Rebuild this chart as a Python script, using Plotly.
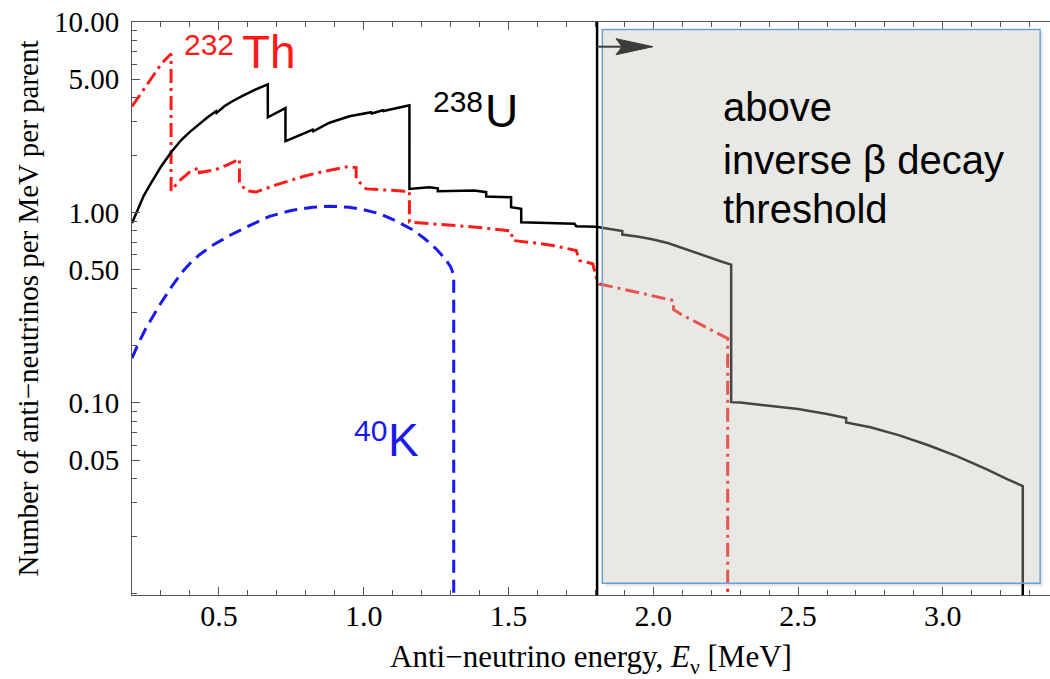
import plotly.graph_objects as go

# ---------------- data ----------------
# 238U chain spectrum (black, solid)
u_energy = [0.20, 0.22, 0.24, 0.26, 0.28, 0.30, 0.335, 0.37, 0.40, 0.433, 0.46, 0.490, 0.492,
            0.52, 0.548, 0.58, 0.62, 0.669, 0.669, 0.730, 0.730, 0.78, 0.824, 0.826, 0.882,
            0.951, 1.026, 1.028, 1.066, 1.068, 1.12, 1.158, 1.158,
            1.227, 1.256, 1.256, 1.383, 1.423, 1.423, 1.509, 1.509, 1.544, 1.544, 1.728, 1.734,
            1.803, 1.893, 1.893, 1.95, 2.00, 2.05, 2.10, 2.15, 2.20, 2.24, 2.269, 2.269,
            2.30, 2.40, 2.50, 2.60, 2.666, 2.666, 2.75, 2.85, 2.95, 3.05, 3.15, 3.22,
            3.276, 3.276]
u_rate = [0.88, 1.04, 1.22, 1.38, 1.56, 1.74, 2.07, 2.40, 2.65, 2.92, 3.15, 3.40, 3.33,
          3.62, 3.85, 4.08, 4.38, 4.70, 3.16, 3.53, 2.37, 2.55, 2.72, 2.67, 2.96,
          3.20, 3.36, 3.31, 3.44, 3.41, 3.56, 3.65, 1.33,
          1.358, 1.34, 1.294, 1.305, 1.278, 1.213, 1.203, 1.066, 1.045, 0.889, 0.872, 0.847,
          0.842, 0.80, 0.766, 0.745, 0.722, 0.692, 0.650, 0.615, 0.578, 0.550, 0.533, 0.101,
          0.1005, 0.097, 0.093, 0.0875, 0.0835, 0.079, 0.0745, 0.0676, 0.060, 0.0525, 0.045, 0.040,
          0.0366, 0.009]

# 232Th chain spectrum (red, dash-dot)
th_energy = [0.20, 0.23, 0.26, 0.302, 0.335, 0.335, 0.36, 0.399, 0.433, 0.433, 0.490, 0.53,
             0.571, 0.571, 0.594, 0.628, 0.70, 0.80, 0.86, 0.945, 0.974, 0.974, 1.009, 1.158,
             1.158, 1.26, 1.38, 1.509, 1.515, 1.60, 1.653, 1.734, 1.745, 1.791, 1.803, 1.814,
             1.90, 1.98, 2.045, 2.07, 2.07, 2.102, 2.15, 2.20, 2.252, 2.257, 2.257]
th_rate = [3.6, 4.2, 4.93, 6.05, 6.81, 1.30, 1.45, 1.63, 1.72, 1.62, 1.68, 1.78,
           1.91, 1.44, 1.30, 1.28, 1.40, 1.56, 1.64, 1.74, 1.72, 1.50, 1.33, 1.29,
           0.89, 0.87, 0.84, 0.80, 0.713, 0.69, 0.671, 0.632, 0.56, 0.538, 0.457, 0.422,
           0.395, 0.370, 0.352, 0.345, 0.31, 0.288, 0.265, 0.243, 0.221, 0.218, 0.009]

# 40K spectrum (blue, dashed)
k_energy = [0.20, 0.225, 0.25, 0.275, 0.30, 0.34, 0.375, 0.40, 0.433, 0.48, 0.537, 0.60,
            0.675, 0.75, 0.824, 0.88, 0.95, 1.00, 1.055, 1.11, 1.17, 1.21, 1.25, 1.28,
            1.30, 1.311, 1.311]
k_rate = [0.172, 0.21, 0.25, 0.29, 0.335, 0.415, 0.49, 0.54, 0.60, 0.675, 0.757, 0.845,
          0.955, 1.025, 1.065, 1.08, 1.065, 1.035, 0.985, 0.905, 0.81, 0.73, 0.645, 0.575,
          0.52, 0.47, 0.009]

threshold = 1.806
x_range = [0.2, 3.37]
y_range_log = [-2.008, 1.0]

x_major = [0.5, 1.0, 1.5, 2.0, 2.5, 3.0]
x_major_text = ["0.5", "1.0", "1.5", "2.0", "2.5", "3.0"]
x_minor = [round(0.2 + 0.1 * i, 1) for i in range(32)]
x_minor = [v for v in x_minor if v not in x_major]

y_major = [0.05, 0.1, 0.5, 1.0, 5.0, 10.0]
y_major_text = ["0.05", "0.10", "0.50", "1.00", "5.00", "10.00"]
y_minor = []
for dec in [0.01, 0.1, 1.0]:
    for m in range(1, 10):
        v = round(m * dec, 4)
        if v not in y_major:
            y_minor.append(v)

SERIF = "Liberation Serif"
SANS = "Liberation Sans"
AXC = "#555555"

L, T, B, W, H = 132, 22, 84, 1050, 679
PW, PH = W - L, H - T - B


def py(p):
    return (H - B - p) / PH


def px(p):
    return (p - L) / PW


def xdat(p):
    return x_range[0] + (p - L) / PW * (x_range[1] - x_range[0])


fig = go.Figure()
fig.add_trace(go.Scatter(x=k_energy, y=k_rate, mode="lines", name="40K",
                         line=dict(color="#1a1aee", width=3, dash="13px,7px")))
fig.add_trace(go.Scatter(x=th_energy, y=th_rate, mode="lines", name="232Th",
                         line=dict(color="#ff1a1a", width=3, dash="14px,5px,3px,5px")))
fig.add_trace(go.Scatter(x=u_energy, y=u_rate, mode="lines", name="238U",
                         line=dict(color="black", width=2.5)))

# threshold line
fig.add_shape(type="line", xref="x", yref="paper", x0=threshold, x1=threshold, y0=0, y1=1,
              line=dict(color="black", width=2.5), layer="above")

# shaded region: thin shadow strips + box
bx0, bx1 = 1.824, 3.336
by0, by1 = 0.0204, 0.987
sh = 3
fig.add_shape(type="rect", xref="x", yref="paper", x0=bx1, x1=bx1 + sh / PW * 3.17,
              y0=by0 - sh / PH, y1=by1 - sh / PH, line=dict(width=0),
              fillcolor="rgba(0,0,0,0.10)", layer="above")
fig.add_shape(type="rect", xref="x", yref="paper", x0=bx0 + sh / PW * 3.17, x1=bx1,
              y0=by0 - sh / PH, y1=by0, line=dict(width=0),
              fillcolor="rgba(0,0,0,0.10)", layer="above")
fig.add_shape(type="rect", xref="x", yref="paper", x0=bx0, x1=bx1, y0=by0, y1=by1,
              line=dict(color="#6b9fd6", width=1.5),
              fillcolor="rgba(190,190,180,0.36)", layer="above")

# arrow (shaft + head)
ay = 46.7
fig.add_shape(type="line", xref="x", yref="paper", x0=threshold, x1=xdat(622), y0=py(ay), y1=py(ay),
              line=dict(color="#3c3c3c", width=2), layer="above")
head = "M {a},{b} L {c},{d} L {a},{e} L {f},{d} Z".format(
    a=xdat(616), b=py(ay - 8), c=xdat(653), d=py(ay), e=py(ay + 8), f=xdat(622))
fig.add_shape(type="path", xref="x", yref="paper", path=head,
              fillcolor="#3c3c3c", line=dict(color="#3c3c3c", width=1), layer="above")

# in-box text
for txt, yc in [("above", 107), ("inverse β decay", 160), ("threshold", 209)]:
    fig.add_annotation(x=px(721), y=py(yc), xref="paper", yref="paper", text=txt,
                       showarrow=False, xanchor="left", yanchor="middle",
                       font=dict(family=SANS, size=40, color="black"))

# isotope labels
labels = [("232", 209, 44.5, 30, "#ff1a1a"), ("Th", 269, 52, 46, "#ff1a1a"),
          ("238", 457.5, 101, 30, "black"), ("U", 501, 111, 46, "black"),
          ("40", 370, 430, 30, "#1a1aee"), ("K", 403, 440, 46, "#1a1aee")]
for txt, xc, yc, sz, col in labels:
    fig.add_annotation(x=px(xc), y=py(yc), xref="paper", yref="paper", text=txt,
                       showarrow=False, xanchor="center", yanchor="middle",
                       font=dict(family=SANS, size=sz, color=col))

fig.update_layout(
    width=W, height=H,
    margin=dict(l=L, r=0, t=T, b=B),
    paper_bgcolor="white", plot_bgcolor="white",
    showlegend=False,
)
fig.update_xaxes(
    range=x_range, showgrid=False, zeroline=False,
    showline=True, linecolor=AXC, linewidth=1, mirror="ticks",
    ticks="inside", ticklen=8, tickwidth=1, tickcolor=AXC,
    tickvals=x_major, ticktext=x_major_text,
    tickfont=dict(family=SERIF, size=30, color="black"),
    ticklabelstandoff=-6,
    minor=dict(tickvals=x_minor, ticks="inside", ticklen=5, tickcolor=AXC, tickwidth=1),
    title=dict(text="Anti−neutrino energy, <i>E</i><sub>ν</sub> [MeV]",
               font=dict(family=SERIF, size=31, color="black"), standoff=14),
)
fig.update_yaxes(
    type="log", range=y_range_log, showgrid=False, zeroline=False,
    showline=True, linecolor=AXC, linewidth=1, mirror=False,
    ticks="inside", ticklen=8, tickwidth=1, tickcolor=AXC,
    tickvals=y_major, ticktext=y_major_text,
    tickfont=dict(family=SERIF, size=29, color="black"),
    ticklabelstandoff=6,
    minor=dict(tickvals=y_minor, ticks="inside", ticklen=5, tickcolor=AXC, tickwidth=1),
    title=dict(text="Number of anti−neutrinos per MeV per parent",
               font=dict(family=SERIF, size=29, color="black"), standoff=6),
)

fig.write_html("out.html")
